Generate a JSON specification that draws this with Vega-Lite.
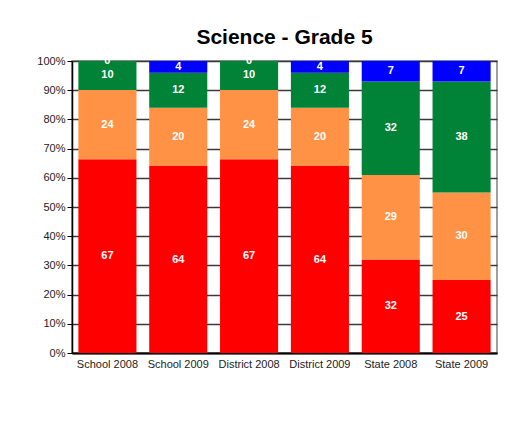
{
  "$schema": "https://vega.github.io/schema/vega-lite/v6.json",
  "width": 425,
  "height": 292,
  "autosize": {"type": "none"},
  "padding": {"left": 72, "top": 61, "right": 14, "bottom": 70},
  "background": "white",
  "title": {"text": "Science - Grade 5", "font": "Liberation Sans", "fontSize": 21, "fontWeight": "bold", "color": "#000000", "offset": 7, "anchor": "middle"},
  "config": {
    "view": {"stroke": "#808080", "strokeWidth": 1.5},
    "axis": {"labelFont": "Liberation Sans", "labelFontSize": 11, "labelColor": "#222222", "domainColor": "#000000", "tickColor": "#000000", "labelOverlap": false}
  },
  "data": {
    "values": [
      {"group": "School 2008", "level": "Below Basic", "rank": 1, "value": 67},
      {"group": "School 2008", "level": "Basic", "rank": 2, "value": 24},
      {"group": "School 2008", "level": "Proficient", "rank": 3, "value": 10},
      {"group": "School 2008", "level": "Advanced", "rank": 4, "value": 0},
      {"group": "School 2009", "level": "Below Basic", "rank": 1, "value": 64},
      {"group": "School 2009", "level": "Basic", "rank": 2, "value": 20},
      {"group": "School 2009", "level": "Proficient", "rank": 3, "value": 12},
      {"group": "School 2009", "level": "Advanced", "rank": 4, "value": 4},
      {"group": "District 2008", "level": "Below Basic", "rank": 1, "value": 67},
      {"group": "District 2008", "level": "Basic", "rank": 2, "value": 24},
      {"group": "District 2008", "level": "Proficient", "rank": 3, "value": 10},
      {"group": "District 2008", "level": "Advanced", "rank": 4, "value": 0},
      {"group": "District 2009", "level": "Below Basic", "rank": 1, "value": 64},
      {"group": "District 2009", "level": "Basic", "rank": 2, "value": 20},
      {"group": "District 2009", "level": "Proficient", "rank": 3, "value": 12},
      {"group": "District 2009", "level": "Advanced", "rank": 4, "value": 4},
      {"group": "State 2008", "level": "Below Basic", "rank": 1, "value": 32},
      {"group": "State 2008", "level": "Basic", "rank": 2, "value": 29},
      {"group": "State 2008", "level": "Proficient", "rank": 3, "value": 32},
      {"group": "State 2008", "level": "Advanced", "rank": 4, "value": 7},
      {"group": "State 2009", "level": "Below Basic", "rank": 1, "value": 25},
      {"group": "State 2009", "level": "Basic", "rank": 2, "value": 30},
      {"group": "State 2009", "level": "Proficient", "rank": 3, "value": 38},
      {"group": "State 2009", "level": "Advanced", "rank": 4, "value": 7}
    ]
  },
  "transform": [
    {"stack": "value", "groupby": ["group"], "sort": [{"field": "rank", "order": "ascending"}], "offset": "normalize", "as": ["y0", "y1"]},
    {"calculate": "(datum.y0 + datum.y1) / 2", "as": "ymid"}
  ],
  "encoding": {
    "x": {
      "field": "group", "type": "nominal", "sort": null, "title": null,
      "scale": {"paddingInner": 0.18, "paddingOuter": 0.09},
      "axis": {"labelAngle": 0, "ticks": false, "labelPadding": 5, "domainWidth": 2, "grid": false}
    }
  },
  "layer": [
    {
      "mark": {"type": "bar"},
      "encoding": {
        "y": {
          "field": "y0", "type": "quantitative", "title": null,
          "scale": {"domain": [0, 1], "nice": false},
          "axis": {"values": [0, 0.1, 0.2, 0.3, 0.4, 0.5, 0.6, 0.7, 0.8, 0.9, 1], "format": ".0%", "tickSize": 5, "labelPadding": 2, "labelOverlap": false, "grid": true, "gridColor": "#3a3a3a", "gridWidth": 1.5, "domainWidth": 1.5}
        },
        "y2": {"field": "y1"},
        "color": {
          "field": "level", "type": "nominal", "legend": null,
          "scale": {"domain": ["Below Basic", "Basic", "Proficient", "Advanced"], "range": ["#FF0000", "#FF9244", "#008336", "#0000FF"]}
        }
      }
    },
    {
      "mark": {"type": "text", "color": "white", "font": "Liberation Sans", "fontSize": 11, "fontWeight": "bold", "baseline": "middle"},
      "encoding": {
        "y": {
          "field": "ymid", "type": "quantitative", "title": null,
          "scale": {"domain": [0, 1], "nice": false},
          "axis": {"values": [0, 0.1, 0.2, 0.3, 0.4, 0.5, 0.6, 0.7, 0.8, 0.9, 1], "format": ".0%", "tickSize": 5, "labelPadding": 2, "labelOverlap": false, "grid": true, "gridColor": "#3a3a3a", "gridWidth": 1.5, "domainWidth": 1.5}
        },
        "text": {"field": "value", "type": "quantitative"}
      }
    }
  ]
}
